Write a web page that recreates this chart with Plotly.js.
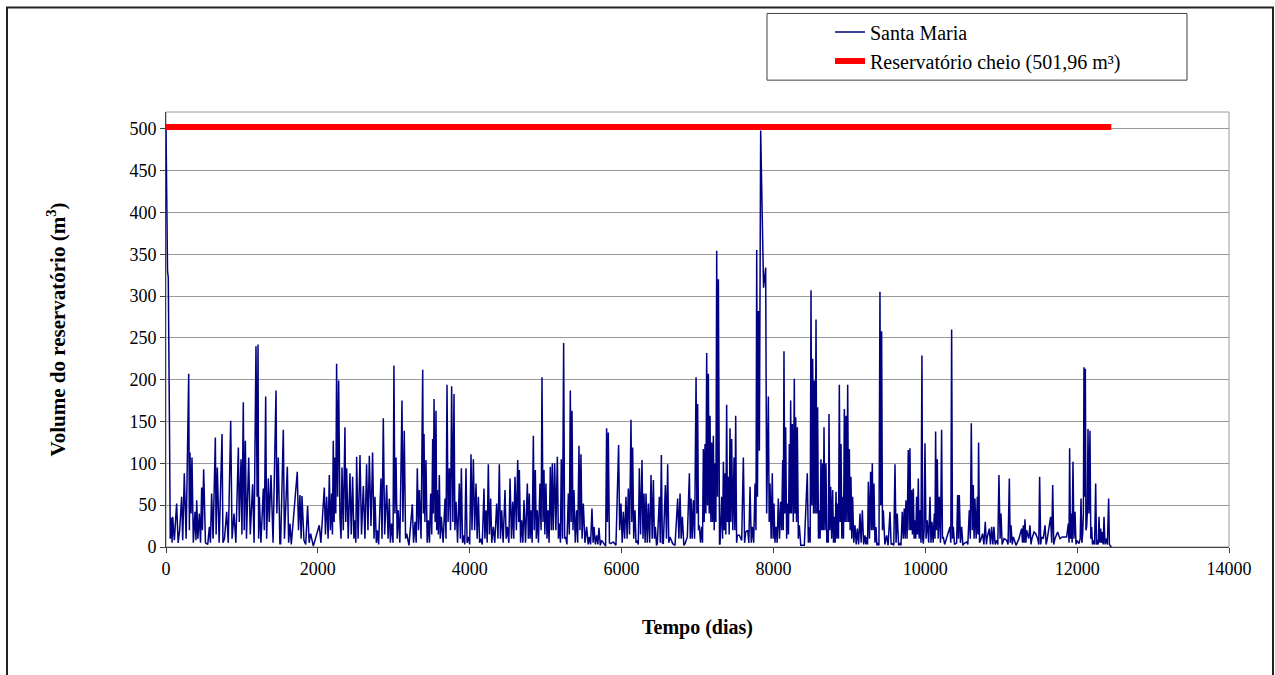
<!DOCTYPE html>
<html>
<head>
<meta charset="utf-8">
<script src="https://cdn.plot.ly/plotly-3.0.1.min.js"></script>
<style>
  html, body { margin: 0; padding: 0; background: #ffffff; }
  #chart { width: 1275px; height: 675px; }
</style>
</head>
<body>
<div id="chart"></div>
<script>
// ---- Data: [day, volume m³] ----
const period1 = [[0,502],[8,420],[20,330],[30,322],[38,130],[48,119],[56,10],[70,35],[80,5],[88,36],[110,8],[140,52],[160,5],[180,20],[206,60],[220,8],[241,88],[265,10],[299,207],[308,20],[316,113],[330,40],[342,107],[360,5],[382,42],[395,8],[404,56],[420,10],[439,40],[455,5],[470,71],[480,20],[496,93],[520,5],[550,3],[571,24],[585,5],[601,64],[620,10],[650,131],[660,15],[676,95],[700,5],[738,135],[750,5],[770,10],[799,42],[820,5],[852,151],[870,10],[896,40],[920,5],[953,119],[965,30],[988,105],[1000,15],[1018,173],[1030,20],[1045,127],[1060,10],[1089,107],[1110,15],[1141,75],[1160,5],[1185,240],[1200,60],[1212,242],[1220,10],[1229,60],[1250,5],[1282,70],[1295,20],[1313,180],[1325,10],[1348,82],[1360,30],[1383,86],[1410,5],[1449,187],[1460,40],[1479,107],[1500,4],[1510,4],[1545,140],[1560,10]];
const period2 = [[1598,96],[1615,5],[1633,28],[1650,3],[1729,90],[1745,20],[1764,62],[1780,10],[1791,61],[1817,8],[1840,3],[1865,49],[1885,5],[1905,16],[1940,1],[1993,18],[2019,26],[2040,5],[2085,71],[2100,15],[2116,60],[2135,10],[2151,86],[2165,20],[2181,64],[2192,15],[2203,127],[2214,30],[2225,107],[2236,40],[2247,219],[2260,60],[2274,199],[2291,36],[2305,10],[2318,95],[2335,20],[2357,143],[2368,30],[2379,94],[2400,10],[2423,88],[2440,15],[2458,84],[2475,10],[2489,32],[2500,5],[2511,108],[2530,10],[2555,110],[2575,15],[2599,73],[2620,10],[2642,99],[2660,20],[2678,109],[2700,25],[2721,113],[2740,10],[2752,60],[2770,5],[2783,20],[2800,3],[2831,82],[2845,10],[2862,154],[2880,15],[2906,74],[2925,10],[2941,58],[2955,5],[2972,28],[2990,5],[3002,217],[3015,40],[3029,107],[3045,10],[3059,44],[3080,5],[3108,175],[3120,30],[3138,139],[3155,10]];
const period3 = [[3170,16],[3200,2],[3244,51],[3260,5],[3280,30],[3295,5],[3310,94],[3325,20],[3337,68],[3359,10],[3381,212],[3390,40],[3398,135],[3410,30],[3424,104],[3440,5],[3455,32],[3470,5],[3486,64],[3500,15],[3512,129],[3521,40],[3530,177],[3545,30],[3556,163],[3565,20],[3574,68],[3587,15],[3600,86],[3612,10],[3626,36],[3650,5],[3675,58],[3688,10],[3701,194],[3715,30],[3732,94],[3747,20],[3762,192],[3778,30],[3793,183],[3805,20],[3820,54],[3840,5],[3863,76],[3877,10],[3890,94],[3905,5],[3916,14],[3935,3],[3951,94],[3965,5],[3982,12],[4000,3],[4017,111],[4030,20],[4048,105],[4065,20],[4083,76],[4098,10],[4114,60],[4130,5],[4144,10],[4165,3],[4188,70],[4200,10],[4215,44],[4230,5],[4245,99],[4260,15],[4276,58],[4290,5],[4311,24],[4330,5],[4355,52],[4372,10],[4390,99],[4405,10],[4421,44],[4440,5],[4465,68],[4480,10],[4496,24],[4515,5],[4531,82],[4550,10],[4566,54],[4580,10],[4596,84],[4615,20],[4632,104],[4645,30],[4654,92],[4670,5],[4684,32],[4700,5],[4715,56],[4735,5]];
const period4 = [[4759,76],[4772,10],[4785,64],[4796,10],[4807,44],[4822,5],[4838,133],[4850,20],[4864,92],[4877,10],[4890,44],[4905,5],[4925,76],[4940,20],[4952,203],[4965,30],[4978,92],[4990,15],[5004,76],[5018,10],[5031,44],[5045,5],[5062,96],[5075,20],[5088,100],[5100,20],[5119,100],[5135,20],[5154,108],[5168,10],[5180,28],[5195,5],[5206,105],[5222,10],[5237,244],[5250,10],[5263,12],[5280,3],[5299,64],[5312,15],[5325,187],[5336,30],[5347,163],[5360,20],[5373,68],[5390,5],[5408,44],[5422,5],[5439,121],[5452,20],[5465,111],[5480,10],[5496,52],[5518,5],[5540,24],[5560,3],[5575,12],[5592,3],[5610,46],[5625,5],[5637,24],[5655,3],[5672,14],[5688,3],[5702,23],[5720,2],[5738,8],[5773,4],[5790,1],[5803,142],[5814,30],[5825,137],[5840,5],[5856,4],[5891,6],[5926,2],[5961,122],[5975,20],[5992,52],[6008,5],[6023,42],[6040,10],[6058,60],[6073,10],[6089,70],[6105,15],[6124,152],[6135,30],[6146,119],[6160,10],[6177,44],[6190,5],[6207,8],[6220,3],[6234,94],[6250,15],[6269,104],[6282,10],[6295,64],[6310,5]];
const period5 = [[6322,64],[6338,5],[6353,52],[6370,5],[6388,86],[6403,10],[6419,80],[6432,10],[6445,24],[6460,2],[6471,4],[6498,60],[6510,5],[6524,110],[6537,5],[6550,4],[6577,74],[6592,10],[6607,99],[6622,5],[6638,12],[6673,4],[6704,2],[6739,58],[6755,10],[6770,64],[6785,10],[6801,36],[6820,2],[6836,4],[6866,12],[6893,88],[6905,10],[6915,58],[6930,10],[6945,56],[6962,10],[6981,203],[6992,40],[7002,171],[7013,20],[7024,26],[7040,5],[7055,24],[7066,5],[7077,117],[7088,30],[7099,123],[7110,40],[7121,232],[7132,50],[7143,207],[7154,40],[7165,157],[7176,30],[7187,125],[7198,30],[7209,133],[7220,20],[7231,100],[7242,30],[7253,354],[7264,60],[7275,320],[7290,3],[7297,4],[7319,60],[7330,10],[7341,102],[7352,20],[7362,88],[7373,15],[7384,170],[7395,30],[7406,84],[7417,15],[7428,142],[7439,30],[7450,129],[7465,20],[7481,107],[7492,20],[7503,157],[7515,5],[7525,14],[7551,14],[7582,8],[7604,107],[7620,5],[7635,18],[7661,20],[7676,5],[7692,72],[7708,5],[7722,24],[7740,5],[7758,76],[7770,20],[7780,355],[7790,60],[7802,282],[7815,115]];
const period6 = [[7832,498],[7845,421],[7858,330],[7870,310],[7898,334],[7911,40],[7933,180],[7944,30],[7955,76],[7970,10],[7985,88],[7996,10],[8007,52],[8020,5],[8034,24],[8050,5],[8064,58],[8080,10],[8095,54],[8108,20],[8122,104],[8130,20],[8139,234],[8150,40],[8161,143],[8174,10],[8187,52],[8198,15],[8209,123],[8218,40],[8227,175],[8238,40],[8249,147],[8262,30],[8275,201],[8284,40],[8293,155],[8304,30],[8315,143],[8328,10],[8341,26],[8360,2],[8407,2],[8446,88],[8460,5],[8473,24],[8484,5],[8495,307],[8506,50],[8517,225],[8528,40],[8539,199],[8550,40],[8561,272],[8572,40],[8582,167],[8593,10],[8604,44],[8615,10],[8626,105],[8637,20],[8648,100],[8657,20],[8666,143],[8679,20],[8692,100],[8703,5],[8714,20],[8723,5],[8732,159],[8743,20],[8754,72],[8767,10],[8780,68],[8791,5],[8802,36],[8813,5],[8824,66],[8835,10],[8846,52],[8857,10],[8868,194],[8879,30],[8890,123],[8901,10],[8912,60],[8923,10],[8934,165],[8945,30],[8956,157],[8967,30],[8978,194],[8989,30],[9000,117],[9010,20],[9021,84],[9032,10],[9043,60],[9058,5],[9074,26],[9090,3],[9105,22],[9122,3],[9140,40],[9155,5],[9171,44],[9188,3],[9206,14],[9217,3],[9228,12],[9240,3],[9250,78],[9265,10],[9280,90],[9291,20],[9302,100],[9313,20],[9324,76],[9337,5],[9351,24],[9362,2],[9373,4],[9390,2],[9403,305],[9414,50],[9425,258],[9436,20],[9447,44],[9468,3]];
const period7 = [[9491,14],[9510,2],[9535,42],[9550,3],[9565,4],[9585,2],[9601,99],[9615,5],[9631,40],[9648,2],[9666,4],[9680,2],[9697,42],[9710,10],[9723,46],[9735,10],[9745,56],[9760,10],[9776,116],[9787,20],[9798,118],[9809,20],[9820,68],[9831,15],[9842,70],[9853,10],[9864,32],[9875,10],[9886,60],[9897,15],[9908,82],[9919,10],[9930,44],[9943,5],[9956,229],[9965,10],[9974,4],[9985,20],[9996,124],[10010,10],[10026,32],[10045,5],[10062,60],[10075,5],[10088,30],[10103,5],[10119,40],[10128,10],[10136,138],[10147,20],[10158,105],[10170,10],[10184,60],[10200,5],[10215,140],[10226,10],[10237,12],[10255,3],[10272,8],[10303,16],[10325,24],[10336,5],[10347,260],[10358,10],[10369,24],[10385,3],[10400,4],[10413,5],[10426,62],[10437,10],[10448,62],[10463,5],[10479,24],[10495,2],[10509,4],[10544,6],[10560,3],[10580,44],[10593,10],[10606,148],[10619,20],[10632,74],[10643,10],[10654,58],[10670,10],[10685,60],[10694,15],[10702,125],[10715,5],[10729,8],[10755,16],[10772,3],[10790,30],[10805,3],[10817,12],[10843,22],[10858,3],[10874,24],[10890,3],[10904,24],[10920,3],[10940,8],[10955,3],[10970,86],[10985,10],[10997,40],[11012,3],[11027,8]];
const period8 = [[11037,10],[11072,8],[11090,3],[11107,82],[11118,5],[11129,26],[11145,3],[11160,12],[11195,2],[11234,10],[11269,22],[11280,5],[11291,26],[11302,5],[11313,33],[11325,5],[11335,20],[11362,10],[11379,26],[11392,3],[11405,10],[11432,18],[11454,16],[11480,10],[11495,3],[11506,84],[11520,3],[11533,12],[11555,10],[11577,26],[11592,3],[11607,10],[11634,26],[11651,36],[11665,5],[11678,74],[11692,3],[11708,10],[11743,18],[11774,10],[11805,12],[11831,12],[11862,12],[11884,28],[11893,5],[11901,118],[11912,10],[11923,40],[11934,5],[11945,102],[11958,10],[11972,42],[11985,3],[11994,8],[12024,4],[12040,10],[12051,58],[12062,5],[12073,16],[12082,40],[12090,215],[12099,60],[12108,213],[12116,20],[12125,24],[12134,40],[12143,141],[12156,40],[12169,139],[12180,10],[12191,24],[12202,3],[12213,8],[12230,3],[12244,76],[12255,3],[12266,8],[12277,3],[12288,36],[12299,5],[12310,22],[12321,5],[12332,18],[12343,3],[12354,36],[12367,3],[12380,10],[12398,3],[12415,58],[12425,3],[12433,2],[12450,0]];

const fullReservoirVolume = 501.96;
const fullReservoirDays = [0, 12450];

const seriesName = "Santa Maria";
const fullName = "Reservatório cheio (501,96 m³)";
const xTitle = "Tempo (dias)";
const yTitle = "Volume do reservatório (m<sup>3</sup>)";

// ---- Build traces ----
const allPoints = [].concat(period1, period2, period3, period4, period5, period6, period7, period8);
const xs = allPoints.map(p => p[0]);
const ys = allPoints.map(p => p[1]);

const FONT = "Liberation Serif";

const traces = [
  {
    x: xs, y: ys, type: "scatter", mode: "lines", name: seriesName,
    line: { color: "#000080", width: 1.5 },
    hoverinfo: "x+y"
  },
  {
    x: fullReservoirDays, y: fullReservoirDays.map(() => fullReservoirVolume),
    type: "scatter", mode: "lines", name: fullName,
    line: { color: "#ff0000", width: 6 }
  }
];

// plot area: x 166..1229, y 110..547 in a 1275x675 page
const L = 166, R = 1229, T = 110, B = 547;
const W = R - L, H = B - T;
const px = v => (v - L) / W;
const py = v => (B - v) / H;

const layout = {
  width: 1275, height: 675,
  margin: { l: L, r: 1275 - R, t: T, b: 675 - B, pad: 0 },
  paper_bgcolor: "#ffffff",
  plot_bgcolor: "#ffffff",
  font: { family: FONT, size: 18, color: "#000000" },
  showlegend: true,
  legend: {
    x: px(830), y: py(10), xanchor: "left", yanchor: "top",
    bgcolor: "rgba(0,0,0,0)", borderwidth: 0,
    font: { family: FONT, size: 20, color: "#000000" },
    tracegroupgap: 0
  },
  xaxis: {
    range: [0, 14000], dtick: 2000, tick0: 0, tickformat: "d",
    showgrid: false, zeroline: false,
    showline: true, linecolor: "#404040", linewidth: 1,
    ticks: "outside", ticklen: 5, tickcolor: "#404040",
    tickfont: { family: FONT, size: 18, color: "#000000" },
    title: { text: "<b>" + xTitle + "</b>", font: { family: FONT, size: 20, color: "#000000" }, standoff: 42 }
  },
  yaxis: {
    range: [0, 520], dtick: 50, tick0: 0, tickformat: "d",
    showgrid: true, gridcolor: "#9a9a9a", gridwidth: 1,
    zeroline: false,
    showline: true, linecolor: "#404040", linewidth: 1,
    ticks: "outside", ticklen: 5, tickcolor: "#404040",
    tickfont: { family: FONT, size: 18, color: "#000000" },
    title: { text: "<b>" + yTitle + "</b>", font: { family: FONT, size: 21, color: "#000000" }, standoff: 58 }
  },
  shapes: [
    // outer chart frame
    { type: "rect", xref: "paper", yref: "paper", x0: px(7), x1: px(1273), y0: py(678), y1: py(5),
      line: { color: "#222222", width: 2 }, fillcolor: "rgba(0,0,0,0)", layer: "below" },
    // plot area frame
    { type: "rect", xref: "paper", yref: "paper", x0: 0, x1: 1, y0: 0, y1: 1,
      line: { color: "#9a9a9a", width: 1 }, fillcolor: "rgba(0,0,0,0)", layer: "below" },
    // legend box
    { type: "rect", xref: "paper", yref: "paper", x0: px(767), x1: px(1187), y0: py(78), y1: py(11),
      line: { color: "#404040", width: 1 }, fillcolor: "rgba(0,0,0,0)", layer: "below" }
  ]
};

Plotly.newPlot("chart", traces, layout, { displayModeBar: false, staticPlot: true });
</script>
</body>
</html>
